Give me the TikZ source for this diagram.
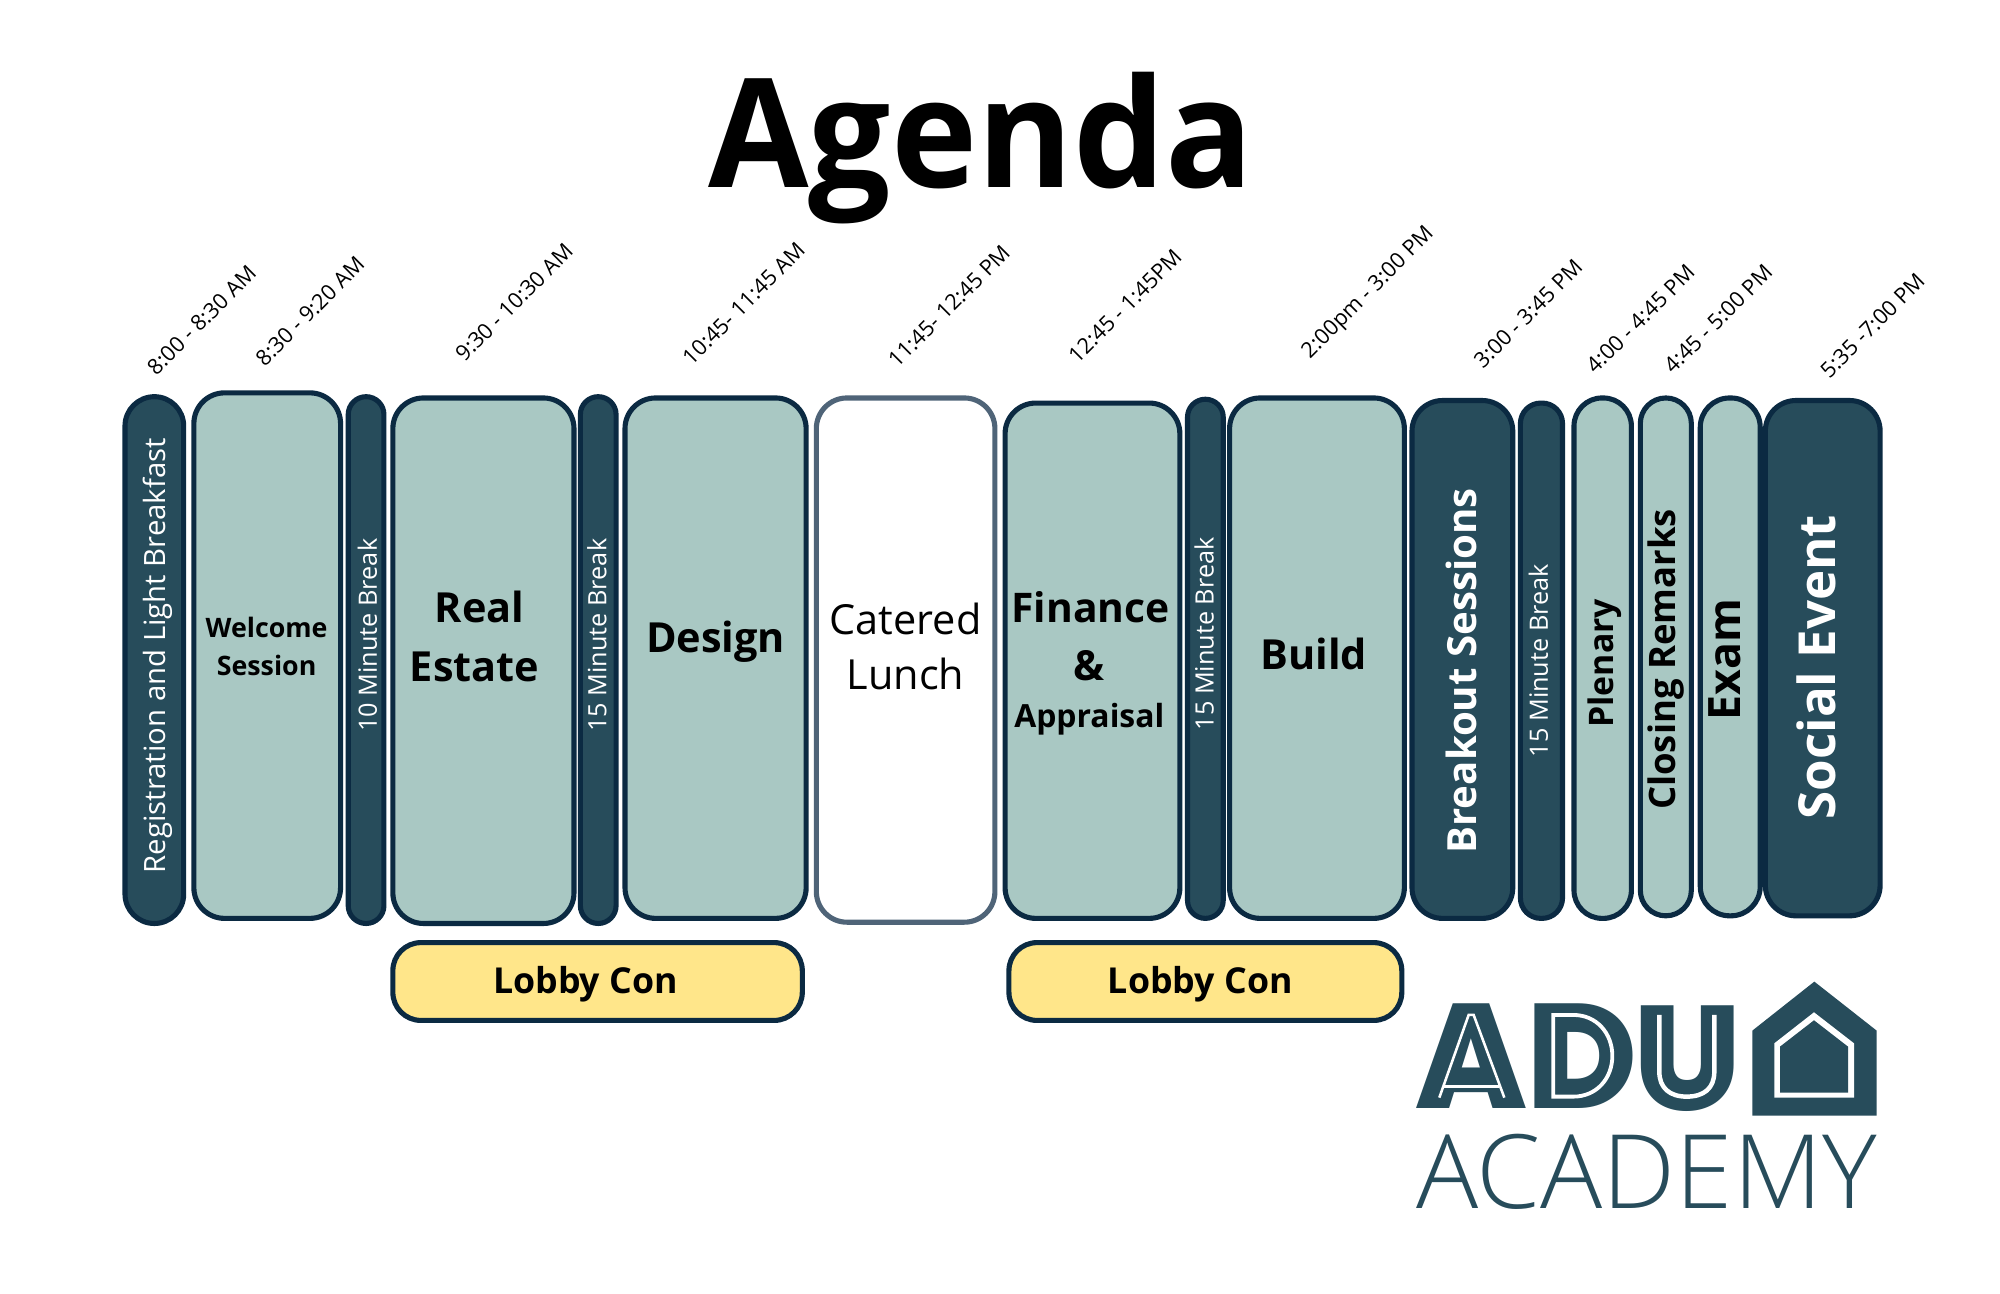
\documentclass[tikz,border=0pt]{standalone}
\usepackage{fontspec}
\setmainfont{Open Sans}
\newfontfamily\oslight{Open Sans Light}
\newfontfamily\popblack{Poppins Black}
\definecolor{darkteal}{HTML}{274C5B}
\definecolor{edgeblue}{HTML}{0B2A42}
\definecolor{lightteal}{HTML}{A9C8C3}
\definecolor{lobbyyellow}{HTML}{FFE68A}
\definecolor{lunchedge}{HTML}{4F6478}
\newcommand{\agbox}[7]{%
  \pgfmathsetmacro{\cxx}{(#3+#5)/2}\pgfmathsetmacro{\cyy}{(#4+#6)/2}%
  \pgfmathsetmacro{\wdd}{#5-#3-2}\pgfmathsetmacro{\htt}{#6-#4-2}%
  \node[agenda box,#2,rounded corners=#7pt,minimum width=\wdd pt,minimum height=\htt pt] (#1) at (\cxx,\cyy) {};}
\tikzset{
  agenda box/.style={draw,inner sep=0pt,outer sep=0pt,line width=4pt},
  darkbox/.style={fill=darkteal,draw=edgeblue},
  lightbox/.style={fill=lightteal,draw=edgeblue},
  lunchbox/.style={fill=white,draw=lunchedge},
  lobbybox/.style={fill=lobbyyellow,draw=edgeblue},
  timelabel/.style={rotate=45,font=\fontsize{17}{17}\selectfont,inner sep=0pt},
  breaklabel/.style={rotate=90,text=white,font=\fontsize{19.8}{20}\selectfont,inner sep=0pt},
  bigbold/.style={font=\fontsize{32.5}{33}\selectfont\bfseries,inner sep=0pt},
  sidebold/.style={rotate=90,font=\bfseries,inner sep=0pt},
  logoline/.style={draw=white,line join=miter},
}
\begin{document}
\begin{tikzpicture}[x=1pt,y=-1pt]
\useasboundingbox (0,0) rectangle (1568,1014);
\fill[white] (0,0) rectangle (1568,1014);
\node[font=\fontsize{119}{119}\selectfont\bfseries,inner sep=0pt,xscale=0.96,anchor=base] (title) at (769,147) {Agenda};
% boxes
\agbox{b1}{darkbox}{97}{310}{145}{725}{23}
\agbox{b2}{lightbox}{151}{307}{268}{721}{24}
\agbox{b3}{darkbox}{272}{310}{302}{725}{14}
\agbox{b4}{lightbox}{307}{311}{451}{725}{24}
\agbox{b5}{darkbox}{454}{310}{484}{725}{14}
\agbox{b6}{lightbox}{489}{311}{633}{721}{24}
\agbox{b7}{lunchbox}{639}{311}{781}{724}{24}
\agbox{b8}{lightbox}{787}{315}{926}{721}{24}
\agbox{b9}{darkbox}{930}{312}{960}{721}{14}
\agbox{b10}{lightbox}{963}{311}{1102}{721}{24}
\agbox{b11}{darkbox}{1106}{313}{1187}{721}{24}
\agbox{b12}{darkbox}{1191}{315}{1226}{721}{16}
\agbox{b13}{lightbox}{1233}{311}{1280}{721}{22}
\agbox{b14}{lightbox}{1285}{311}{1327}{719}{20}
\agbox{b15}{lightbox}{1332}{311}{1381}{719}{23}
\agbox{b16}{darkbox}{1383}{313}{1475}{719}{24}
\agbox{l1}{lobbybox}{307}{738}{630}{801}{22}
\agbox{l2}{lobbybox}{790}{738}{1100}{801}{22}
% time labels
\node[timelabel] (t1) at (158,251) {8:00 - 8:30 AM};
\node[timelabel] (t2) at (243,244) {8:30 - 9:20 AM};
\node[timelabel] (t3) at (403,237) {9:30 - 10:30 AM};
\node[timelabel] (t4) at (583,238) {10:45- 11:45 AM};
\node[timelabel] (t5) at (744,240) {11:45- 12:45 PM};
\node[timelabel] (t6) at (882,240) {12:45 - 1:45PM};
\node[timelabel] (t7) at (1073,230) {2:00pm - 3:00 PM};
\node[timelabel] (t8) at (1198,246) {3:00 - 3:45 PM};
\node[timelabel] (t9) at (1286,250) {4:00 - 4:45 PM};
\node[timelabel] (t10) at (1347,250) {4:45 - 5:00 PM};
\node[timelabel] (t11) at (1468,255) {5:35 -7:00 PM};
% box labels
\node[breaklabel,font=\fontsize{23}{23}\selectfont] (n1) at (123.5,514) {Registration and Light Breakfast};
\node[font=\fontsize{21}{21}\selectfont\bfseries,inner sep=0pt] (n2a) at (209,492) {Welcome};
\node[font=\fontsize{21}{21}\selectfont\bfseries,inner sep=0pt] (n2b) at (209,522) {Session};
\node[breaklabel] (n3) at (288,498) {10 Minute Break};
\node[bigbold] (n4a) at (376,476) {Real};
\node[bigbold] (n4b) at (372,523) {Estate};
\node[breaklabel] (n5) at (468,498) {15 Minute Break};
\node[bigbold] (n6) at (561,503) {Design};
\node[font=\fontsize{32.5}{33}\selectfont,inner sep=0pt] (n7a) at (710,485) {Catered};
\node[font=\fontsize{32.5}{33}\selectfont,inner sep=0pt] (n7b) at (710,528) {Lunch};
\node[bigbold,font=\fontsize{32}{33}\selectfont\bfseries] (n8a) at (855,476) {Finance};
\node[bigbold] (n8b) at (854,522) {\&};
\node[font=\fontsize{25}{25}\selectfont\bfseries,inner sep=0pt] (n8c) at (854,564) {Appraisal};
\node[breaklabel] (n9) at (944,497) {15 Minute Break};
\node[bigbold] (n10) at (1030,513) {Build};
\node[sidebold,text=white,font=\fontsize{31.5}{33}\selectfont\bfseries] (n11) at (1146,526) {Breakout Sessions};
\node[breaklabel] (n12) at (1206,518) {15 Minute Break};
\node[sidebold,font=\fontsize{26.5}{27}\selectfont\bfseries] (n13) at (1258,520) {Plenary};
\node[sidebold,font=\fontsize{28.6}{29}\selectfont\bfseries] (n14) at (1306.5,517) {Closing Remarks};
\node[sidebold,font=\fontsize{35}{35}\selectfont\bfseries] (n15) at (1352,517) {Exam};
\node[sidebold,text=white,font=\fontsize{40}{40}\selectfont\bfseries] (n16) at (1424,523) {Social Event};
\node[font=\fontsize{28}{28}\selectfont\bfseries,inner sep=0pt] (lt1) at (459,772) {Lobby Con};
\node[font=\fontsize{28}{28}\selectfont\bfseries,inner sep=0pt] (lt2) at (941,772) {Lobby Con};
% logo
\begin{scope}[shift={(1081.9,752.6)},x=0.26134pt,y=-0.26134pt]
\node[text=darkteal,inner sep=0pt,anchor=center,xscale=0.96,font=\popblack\fontsize{116}{116}\selectfont] (logoa) at (275,288) {A};
\node[text=darkteal,inner sep=0pt,anchor=center,font=\popblack\fontsize{116}{116}\selectfont] (logod) at (607,288) {D};
\node[text=darkteal,inner sep=0pt,anchor=center,font=\popblack\fontsize{116}{116}\selectfont] (logou) at (922,295) {U};
\draw[logoline,line width=2pt] (178,413) -- (266,165) -- (281,165) -- (373,413);
\draw[logoline,line width=2pt] (193,380) -- (358,380);
\draw[logoline,line width=3pt] (520,165) -- (580,165) .. controls (650,165) and (697,220) .. (697,288) .. controls (697,355) and (650,410) .. (580,410) -- (520,410) -- cycle;
\draw[logoline,line width=3.5pt] (838,165) -- (838,335) .. controls (838,385) and (870,410) .. (920,410) .. controls (972,410) and (1003,385) .. (1003,335) -- (1003,165);
\fill[darkteal] (1117,212) -- (1303,65) -- (1490,212) -- (1490,467) -- (1117,467) -- cycle;
\fill[white] (1183,250) -- (1302,157) -- (1422,250) -- (1422,413) -- (1183,413) -- cycle;
\fill[darkteal] (1200,260) -- (1302,181) -- (1404,260) -- (1404,398) -- (1200,398) -- cycle;
\node[text=darkteal,inner sep=0pt,font=\oslight\fontsize{80.5}{80}\selectfont,anchor=center,xscale=1.008] (logotext) at (800,635) {ACADEMY};
\end{scope}
\end{tikzpicture}
\end{document}
